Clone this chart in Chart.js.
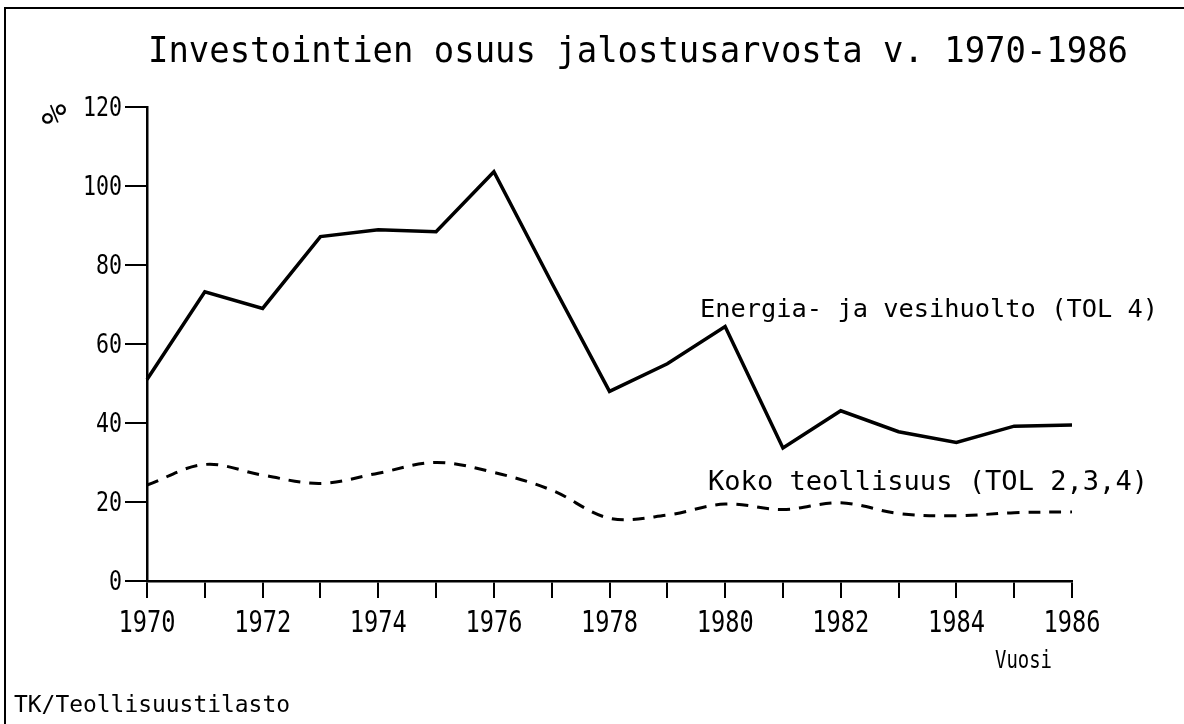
<!DOCTYPE html>
<html>
<head>
<meta charset="utf-8">
<script src="https://cdn.jsdelivr.net/npm/chart.js@4.4.1/dist/chart.umd.min.js"></script>
<style>
  html, body { margin: 0; padding: 0; background: #fff; }
  #wrap { width: 1184px; height: 724px; position: relative; }
</style>
</head>
<body>
<div id="wrap"><canvas id="c" width="1184" height="724"></canvas></div>
<script>
// ---- Data ----
const years = ['1970','1971','1972','1973','1974','1975','1976','1977','1978','1979','1980','1981','1982','1983','1984','1985','1986'];
const energiaVesihuolto = [51, 73.2, 69, 87.2, 88.9, 88.4, 103.6, 75.5, 48, 55, 64.4, 33.7, 43.1, 37.8, 35.1, 39.2, 39.5];
const kokoTeollisuus = [24.3, 29.5, 26.8, 24.7, 27.3, 30, 27.5, 23, 15.9, 16.7, 19.5, 18.1, 19.8, 17.1, 16.5, 17.3, 17.5];
const yMin = 0, yMax = 120, yStep = 20;

const titleText = 'Investointien osuus jalostusarvosta v. 1970-1986';
const label1 = 'Energia- ja vesihuolto (TOL 4)';
const label2 = 'Koko teollisuus (TOL 2,3,4)';
const xTitle = 'Vuosi';
const yTitle = '%';
const sourceText = 'TK/Teollisuustilasto';

const mono = "'DejaVu Sans Mono', monospace";

function drawFit(ctx, s, x, y, size, width, align) {
  ctx.font = size + 'px ' + mono;
  ctx.textAlign = 'left';
  const w = ctx.measureText(s).width;
  const sx = width / w;
  ctx.save();
  ctx.translate(x, y);
  ctx.scale(sx, 1);
  ctx.textAlign = align || 'left';
  ctx.textBaseline = 'alphabetic';
  ctx.fillText(s, 0, 0);
  ctx.restore();
}

const overlay = {
  id: 'overlay',
  afterDraw(chart) {
    const ctx = chart.ctx;
    ctx.save();
    // frame
    ctx.strokeStyle = '#000';
    ctx.lineWidth = 2;
    ctx.beginPath();
    ctx.moveTo(5, 724);
    ctx.lineTo(5, 8);
    ctx.lineTo(1184, 8);
    ctx.stroke();

    ctx.fillStyle = '#000';
    drawFit(ctx, titleText, 148, 62, 36, 980, 'left');
    drawFit(ctx, label1, 700, 317, 25, 458, 'left');
    drawFit(ctx, label2, 708, 490, 26, 440, 'left');
    drawFit(ctx, xTitle, 995, 668, 25, 57, 'left');
    drawFit(ctx, sourceText, 14, 712, 23, 276, 'left');

    // tick labels from the library's scales
    const xs = chart.scales.x;
    xs.ticks.forEach((t, i) => {
      if (i % 2 !== 0) return;
      const lab = xs.getLabelForValue(t.value);
      drawFit(ctx, lab, xs.getPixelForTick(i), 632, 30, 14.25 * lab.length, 'center');
    });
    const ys = chart.scales.y;
    ys.ticks.forEach((t, i) => {
      const lab = String(t.value);
      drawFit(ctx, lab, 122, ys.getPixelForTick(i) + 9, 26, 13 * lab.length, 'right');
    });

    // rotated % sign
    ctx.save();
    ctx.translate(57, 114);
    ctx.rotate(-Math.PI / 2);
    ctx.textAlign = 'center';
    ctx.textBaseline = 'middle';
    ctx.font = '34px ' + mono;
    ctx.fillText(yTitle, 0, 0);
    ctx.restore();
    ctx.restore();
  }
};

new Chart(document.getElementById('c'), {
  type: 'line',
  data: {
    labels: years,
    datasets: [
      {
        label: label1,
        data: energiaVesihuolto,
        borderColor: '#000',
        borderWidth: 3.5,
        pointRadius: 0,
        tension: 0,
        fill: false
      },
      {
        label: label2,
        data: kokoTeollisuus,
        borderColor: '#000',
        borderWidth: 3,
        borderDash: [12, 9],
        pointRadius: 0,
        tension: 0.35,
        fill: false
      }
    ]
  },
  options: {
    responsive: false,
    animation: false,
    devicePixelRatio: 1,
    layout: { padding: { top: 107, right: 112, left: 0, bottom: 0 } },
    plugins: {
      legend: { display: false },
      title: { display: false },
      tooltip: { enabled: false }
    },
    scales: {
      x: {
        type: 'category',
        offset: false,
        grid: { display: true, drawOnChartArea: false, drawTicks: true, tickLength: 17, color: '#000', lineWidth: 2 },
        border: { display: true, color: '#000', width: 2.5 },
        ticks: { display: false, autoSkip: false, maxRotation: 0 },
        afterFit: (s) => { s.height = 143; }
      },
      y: {
        min: yMin,
        max: yMax,
        grid: { display: true, drawOnChartArea: false, drawTicks: true, tickLength: 22, color: '#000', lineWidth: 2 },
        border: { display: true, color: '#000', width: 2.5 },
        ticks: { display: false, stepSize: yStep },
        afterFit: (s) => { s.width = 147; }
      }
    }
  },
  plugins: [overlay]
});
</script>
</body>
</html>
